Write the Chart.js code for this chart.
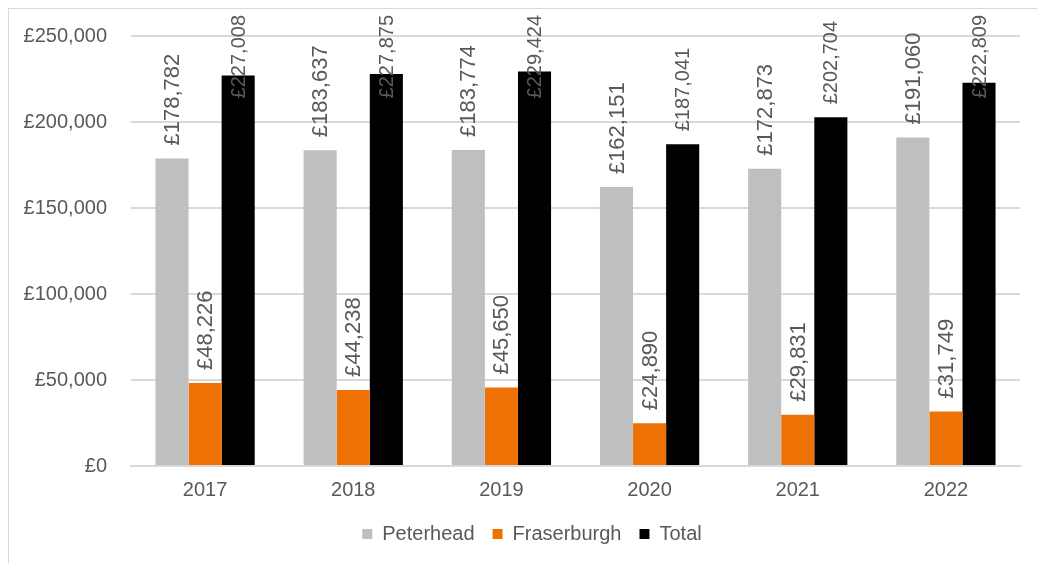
<!DOCTYPE html>
<html>
<head>
<meta charset="utf-8">
<script src="https://cdn.jsdelivr.net/npm/chart.js@4/dist/chart.umd.min.js"></script>
<style>
    html, body { margin: 0; padding: 0; background: #fff; overflow: hidden; }
    #frame { position: absolute; left: 8px; top: 8px; width: 1100px; height: 640px; border: 1px solid #d9d9d9; }
    #wrap { position: absolute; left: 0; top: 0; width: 1037px; height: 563px; }
</style>
</head>
<body>
<div id="frame"></div>
<div id="wrap"><canvas id="chart"></canvas></div>
<script>
var years = ['2017', '2018', '2019', '2020', '2021', '2022'];
var peterhead = [178782, 183637, 183774, 162151, 172873, 191060];
var fraserburgh = [48226, 44238, 45650, 24890, 29831, 31749];
var total = [227008, 227875, 229424, 187041, 202704, 222809];
var yTicks = [0, 50000, 100000, 150000, 200000, 250000];

var FONT = "'Liberation Sans', Arial, sans-serif";
var TEXT = '#595959';

function money(v) {
    return '£' + Number(v).toLocaleString('en-GB');
}

// labels standing on top of each bar, turned to read bottom-up
var barLabels = {
    id: 'barLabels',
    afterDatasetsDraw: function(chart) {
        const ctx = chart.ctx;
        chart.data.datasets.forEach(function(ds, i) {
            const meta = chart.getDatasetMeta(i);
            const size = i === 2 ? 20 : 22;
            ctx.save();
            ctx.font = size + 'px ' + FONT;
            ctx.fillStyle = TEXT;
            ctx.textAlign = 'left';
            ctx.textBaseline = 'middle';
            meta.data.forEach(function(bar, j) {
                const text = money(ds.data[j]);
                const w = ctx.measureText(text).width;
                let start = bar.y - 13;
                if (start - w < 15) start = 15 + w;
                ctx.save();
                ctx.translate(bar.x + 1, start);
                ctx.rotate(-Math.PI / 2);
                ctx.fillText(text, 0, 0);
                ctx.restore();
            });
            ctx.restore();
        });
    }
};

// legend sits a little right of centre in the original
var legendNudge = {
    id: 'legendNudge',
    afterLayout: function(chart) {
        const legend = chart.legend;
        legend.left += 22;
        legend.right += 22;
    }
};

new Chart(document.getElementById('chart'), {
    type: 'bar',
    data: {
        labels: years,
        datasets: [
            { label: 'Peterhead', data: peterhead, backgroundColor: '#bfbfbf' },
            { label: 'Fraserburgh', data: fraserburgh, backgroundColor: '#ee7104' },
            { label: 'Total', data: total, backgroundColor: '#000000' }
        ]
    },
    options: {
        responsive: true,
        maintainAspectRatio: false,
        animation: false,
        datasets: {
            bar: { barPercentage: 1, categoryPercentage: 0.67 }
        },
        layout: { padding: { top: 35, right: 17, left: 0, bottom: 9 } },
        plugins: {
            tooltip: { enabled: false },
            legend: {
                position: 'bottom',
                labels: {
                    font: { family: FONT, size: 20 },
                    color: TEXT,
                    boxWidth: 10,
                    boxHeight: 10,
                    padding: 18
                }
            }
        },
        scales: {
            x: {
                grid: { display: false },
                border: { display: true, color: '#d9d9d9', width: 2 },
                ticks: { font: { family: FONT, size: 20 }, color: TEXT, padding: 4 }
            },
            y: {
                min: 0,
                max: 250000,
                afterFit: function(scale) { scale.width = 131; },
                afterBuildTicks: function(scale) {
                    scale.ticks = yTicks.map(function(v) { return { value: v }; });
                },
                grid: { color: '#d9d9d9', lineWidth: 2, drawTicks: false },
                border: { display: false },
                ticks: {
                    font: { family: FONT, size: 20 },
                    color: TEXT,
                    padding: 24,
                    callback: function(v) { return money(v); }
                }
            }
        }
    },
    plugins: [barLabels, legendNudge]
});
</script>
</body>
</html>
